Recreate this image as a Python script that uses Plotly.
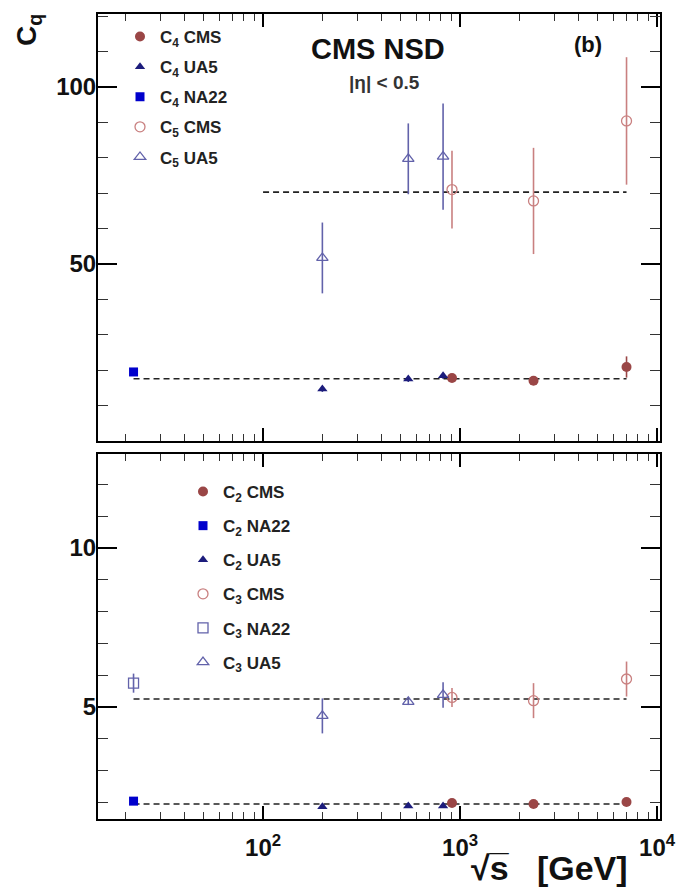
import plotly.graph_objects as go

# ---------------- data ----------------
ua5_x = [200, 546, 820]
na22_x = [22]
cms_x = [910, 2360, 7000]

# top panel: C4 and C5
cms_c4 = [17.8, 17.0, 20.9]
cms_c4_err = [1.0, 1.2, 3.0]
ua5_c4 = [14.7, 17.5, 18.4]
ua5_c4_err = [0.8, 0.8, 0.8]
na22_c4 = [19.5]
na22_c4_err = [1.0]
cms_c5 = [71.0, 67.8, 90.4]
cms_c5_err = [11.0, 15.0, 18.0]
ua5_c5 = [51.7, 79.7, 80.3]
ua5_c5_err = [10.0, 10.0, 15.0]

# bottom panel: C2 and C3
cms_c2 = [1.98, 1.95, 2.01]
cms_c2_err = [0.03, 0.03, 0.04]
na22_c2 = [2.04]
na22_c2_err = [0.03]
ua5_c2 = [1.86, 1.89, 1.89]
ua5_c2_err = [0.03, 0.03, 0.03]
cms_c3 = [5.30, 5.20, 5.88]
cms_c3_err = [0.30, 0.55, 0.55]
na22_c3 = [5.75]
na22_c3_err = [0.30]
ua5_c3 = [4.72, 5.16, 5.38]
ua5_c3_err = [0.55, 0.10, 0.40]

# average (fit) lines: [x_start, x_end], value
fit_c4_x = [22, 7000]
fit_c4 = 17.6
fit_c5_x = [100, 7000]
fit_c5 = 70.3
fit_c2_x = [22, 7000]
fit_c2 = 1.95
fit_c3_x = [22, 7000]
fit_c3 = 5.25

x_tickvals = [100, 1000, 10000]
x_ticktext = ["10<sup>2</sup>", "10<sup>3</sup>", "10<sup>4</sup>"]

# ---------------- styles ----------------
W, H = 681, 894
FONT = "Liberation Sans"
C_CMS = "#9a4646"
C_CMS_OPEN = "#c98080"
C_UA5 = "#1c1c7c"
C_NA22 = "#0000cc"
C_OPEN_BLUE = "#6262aa"

fig = go.Figure()


def add_pts(x, y, err, name, symbol, color, ecolor, xa, ya, legend, size=10, open_=False):
    fig.add_trace(go.Scatter(
        x=x, y=y, mode="markers", name=name,
        xaxis=xa, yaxis=ya, legend=legend, legendgroup=name,
        marker=dict(symbol=symbol, size=size, color=color,
                    line=dict(color=color, width=1.3 if open_ else 0)),
        error_y=dict(type="data", array=err, color=ecolor, thickness=1.6, width=0),
    ))


def add_fit(xr, val, xa, ya):
    fig.add_trace(go.Scatter(
        x=xr, y=[val, val], mode="lines", showlegend=False,
        xaxis=xa, yaxis=ya, hoverinfo="skip",
        line=dict(color="#222222", width=1.6, dash="6px,4px"),
    ))


# top panel
add_fit(fit_c4_x, fit_c4, "x", "y")
add_fit(fit_c5_x, fit_c5, "x", "y")
add_pts(cms_x, cms_c4, cms_c4_err, "C<sub>4</sub> CMS", "circle", C_CMS, C_CMS, "x", "y", "legend")
add_pts(ua5_x, ua5_c4, ua5_c4_err, "C<sub>4</sub> UA5", "triangle-up", C_UA5, C_UA5, "x", "y", "legend", size=9)
add_pts(na22_x, na22_c4, na22_c4_err, "C<sub>4</sub> NA22", "square", C_NA22, C_NA22, "x", "y", "legend", size=9)
add_pts(cms_x, cms_c5, cms_c5_err, "C<sub>5</sub> CMS", "circle-open", C_CMS_OPEN, C_CMS_OPEN, "x", "y", "legend", open_=True)
add_pts(ua5_x, ua5_c5, ua5_c5_err, "C<sub>5</sub> UA5", "triangle-up-open", C_OPEN_BLUE, C_OPEN_BLUE, "x", "y", "legend", open_=True)

# bottom panel
add_fit(fit_c2_x, fit_c2, "x2", "y2")
add_fit(fit_c3_x, fit_c3, "x2", "y2")
add_pts(cms_x, cms_c2, cms_c2_err, "C<sub>2</sub> CMS", "circle", C_CMS, C_CMS, "x2", "y2", "legend2")
add_pts(na22_x, na22_c2, na22_c2_err, "C<sub>2</sub> NA22", "square", C_NA22, C_NA22, "x2", "y2", "legend2", size=9)
add_pts(ua5_x, ua5_c2, ua5_c2_err, "C<sub>2</sub> UA5", "triangle-up", C_UA5, C_UA5, "x2", "y2", "legend2", size=9)
add_pts(cms_x, cms_c3, cms_c3_err, "C<sub>3</sub> CMS", "circle-open", C_CMS_OPEN, C_CMS_OPEN, "x2", "y2", "legend2", open_=True)
add_pts(na22_x, na22_c3, na22_c3_err, "C<sub>3</sub> NA22", "square-open", C_OPEN_BLUE, C_OPEN_BLUE, "x2", "y2", "legend2", open_=True)
add_pts(ua5_x, ua5_c3, ua5_c3_err, "C<sub>3</sub> UA5", "triangle-up-open", C_OPEN_BLUE, C_OPEN_BLUE, "x2", "y2", "legend2", open_=True)

# ---------------- layout ----------------
px_x = lambda p: p / W
px_y = lambda p: 1 - p / H

x_dom = [px_x(98), px_x(660)]
minor_x = [v * m for v in (10, 100, 1000) for m in range(2, 10)]

common_x = dict(
    type="log", range=[1.162, 4.015], domain=x_dom, automargin=False,
    showline=True, linecolor="black", linewidth=2, mirror="allticks",
    ticks="inside", ticklen=13, tickwidth=1.5, tickcolor="black",
    tickvals=x_tickvals, ticktext=x_ticktext,
    minor=dict(tickvals=minor_x, ticks="inside", ticklen=7, tickwidth=1, tickcolor="#333333"),
    showgrid=False, zeroline=False,
    tickfont=dict(family=FONT, size=24, color="#111111", weight="bold"),
)

common_y = dict(
    showline=True, linecolor="black", linewidth=2, mirror="allticks", automargin=False,
    ticks="inside", ticklen=19, tickwidth=1.5, tickcolor="black",
    showgrid=False, zeroline=False, ticklabelstandoff=-5,
    tickfont=dict(family=FONT, size=24, color="#111111", weight="bold"),
)

fig.update_layout(
    width=W, height=H,
    margin=dict(l=0, r=0, t=0, b=0, autoexpand=False),
    paper_bgcolor="white", plot_bgcolor="white",
    font=dict(family=FONT, color="#111111", weight="bold"),
    xaxis=dict(common_x, anchor="y", showticklabels=False),
    yaxis=dict(common_y, anchor="x", domain=[px_y(441), px_y(14)],
               range=[0, 120.6], tickmode="array", tickvals=[50, 100], ticktext=["50", "100"],
               minor=dict(tickvals=[10, 20, 30, 40, 60, 70, 80, 90, 110, 120],
                          ticks="inside", ticklen=10, tickwidth=1, tickcolor="#333333")),
    xaxis2=dict(common_x, anchor="y2", showticklabels=True, ticklabelstandoff=6),
    yaxis2=dict(common_y, anchor="x2", domain=[px_y(819), px_y(454)],
                range=[1.478, 12.956], tickmode="array", tickvals=[5, 10], ticktext=["5", "10"],
                minor=dict(tickvals=[2, 3, 4, 6, 7, 8, 9, 11, 12],
                           ticks="inside", ticklen=10, tickwidth=1, tickcolor="#333333")),
    legend=dict(
        x=px_x(120), y=px_y(19), xanchor="left", yanchor="top",
        bgcolor="rgba(0,0,0,0)", borderwidth=0, tracegroupgap=5,
        font=dict(family=FONT, size=17, color="#222222", weight="bold"),
        itemwidth=30,
    ),
    legend2=dict(
        x=px_x(183), y=px_y(474), xanchor="left", yanchor="top",
        bgcolor="rgba(0,0,0,0)", borderwidth=0, tracegroupgap=9,
        font=dict(family=FONT, size=17, color="#222222", weight="bold"),
        itemwidth=30,
    ),
    showlegend=True,
)

fig.add_annotation(text="CMS NSD", x=px_x(378), y=px_y(49), xref="paper", yref="paper",
                   showarrow=False, xanchor="center", yanchor="middle",
                   font=dict(family=FONT, size=29, color="#111111", weight="bold"))
fig.add_annotation(text="|η| < 0.5", x=px_x(385), y=px_y(82), xref="paper", yref="paper",
                   showarrow=False, xanchor="center", yanchor="middle",
                   font=dict(family=FONT, size=19, color="#333333", weight="bold"))
fig.add_annotation(text="(b)", x=px_x(588), y=px_y(45), xref="paper", yref="paper",
                   showarrow=False, xanchor="center", yanchor="middle",
                   font=dict(family=FONT, size=22, color="#111111", weight="bold"))
fig.add_annotation(text="C<sub>q</sub>", x=px_x(29), y=px_y(30), xref="paper", yref="paper",
                   showarrow=False, xanchor="center", yanchor="middle", textangle=-90,
                   font=dict(family=FONT, size=28, color="#111111", weight="bold"))
fig.add_annotation(text="√s\u0305   [GeV]", x=px_x(630), y=px_y(868), xref="paper", yref="paper",
                   showarrow=False, xanchor="right", yanchor="middle",
                   font=dict(family=FONT, size=34, color="#111111", weight="bold"))

fig.write_html("out.html", config={"displayModeBar": False},
               post_script="document.body.style.margin='0px';")
